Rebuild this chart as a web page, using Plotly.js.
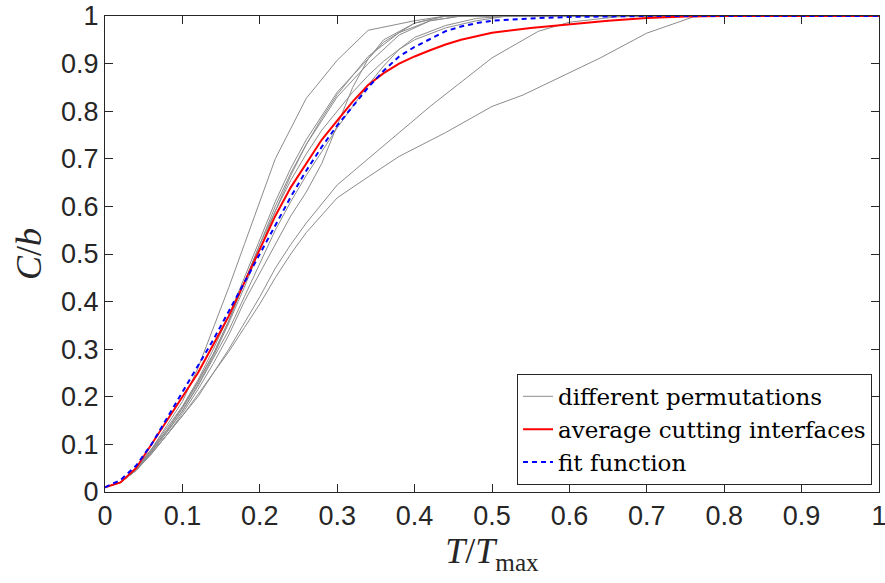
<!DOCTYPE html>
<html>
<head>
<meta charset="utf-8">
<script src="https://cdn.plot.ly/plotly-3.0.1.min.js"></script>
<style>html,body{margin:0;padding:0;background:#fff;}#chart{width:885px;height:583px;}</style>
</head>
<body>
<div id="chart"></div>
<script>
// Gray curves: different permutations
var permAx = [0,0.02,0.04,0.06,0.08,0.10,0.12,0.14,0.16,0.18,0.20,0.22,0.26,0.30,0.34,0.40,0.44,1.0];
var permAy = [0.01,0.02,0.05,0.09,0.14,0.19,0.26,0.345,0.43,0.52,0.61,0.70,0.827,0.907,0.97,0.99,1.0,1.0];
var permBx = [0,0.02,0.04,0.06,0.08,0.10,0.12,0.14,0.16,0.18,0.20,0.22,0.24,0.26,0.28,0.30,0.34,0.36,0.40,0.44,1.0];
var permBy = [0.01,0.02,0.05,0.09,0.135,0.18,0.235,0.30,0.37,0.45,0.53,0.61,0.68,0.74,0.79,0.84,0.91,0.945,0.985,1.0,1.0];
var permCx = [0,0.02,0.04,0.06,0.08,0.10,0.12,0.14,0.16,0.18,0.20,0.22,0.24,0.26,0.28,0.30,0.34,0.38,0.42,0.46,1.0];
var permCy = [0.01,0.02,0.048,0.088,0.13,0.175,0.23,0.29,0.36,0.44,0.52,0.60,0.67,0.73,0.78,0.83,0.90,0.96,0.99,1.0,1.0];
var permDx = [0,0.02,0.04,0.06,0.08,0.10,0.12,0.14,0.16,0.18,0.20,0.22,0.24,0.26,0.28,0.30,0.34,0.38,0.42,0.46,1.0];
var permDy = [0.01,0.02,0.047,0.085,0.127,0.17,0.225,0.285,0.355,0.43,0.51,0.59,0.665,0.73,0.785,0.835,0.915,0.965,0.99,1.0,1.0];
var permEx = [0,0.02,0.04,0.06,0.08,0.10,0.12,0.14,0.16,0.18,0.20,0.22,0.24,0.26,0.28,0.30,0.32,0.34,0.36,0.40,0.44,1.0];
var permEy = [0.01,0.02,0.045,0.082,0.12,0.165,0.215,0.27,0.33,0.40,0.46,0.52,0.58,0.63,0.69,0.77,0.85,0.91,0.95,0.985,1.0,1.0];
var permFx = [0,0.02,0.04,0.06,0.08,0.10,0.12,0.14,0.16,0.18,0.20,0.22,0.24,0.26,0.28,0.30,0.32,0.34,0.36,0.38,0.40,0.44,0.48,0.52,1.0];
var permFy = [0.01,0.02,0.046,0.084,0.125,0.17,0.222,0.28,0.34,0.41,0.48,0.55,0.61,0.665,0.715,0.765,0.81,0.855,0.895,0.93,0.955,0.98,0.995,1.0,1.0];
var permGx = [0,0.02,0.04,0.06,0.08,0.10,0.12,0.14,0.16,0.18,0.20,0.22,0.24,0.26,0.28,0.30,0.32,0.34,0.36,0.38,0.40,0.44,0.48,0.52,1.0];
var permGy = [0.01,0.02,0.048,0.087,0.13,0.178,0.232,0.29,0.36,0.44,0.52,0.59,0.655,0.71,0.76,0.80,0.84,0.875,0.905,0.93,0.95,0.975,0.99,1.0,1.0];
var permHx = [0,0.02,0.04,0.06,0.08,0.10,0.12,0.14,0.16,0.18,0.20,0.22,0.24,0.26,0.30,0.34,0.38,0.42,0.46,0.50,0.56,0.60,0.66,0.70,1.0];
var permHy = [0.01,0.02,0.045,0.08,0.12,0.16,0.205,0.25,0.30,0.355,0.41,0.47,0.52,0.565,0.645,0.70,0.756,0.81,0.861,0.912,0.968,0.987,0.998,1.0,1.0];
var permIx = [0,0.02,0.04,0.06,0.08,0.10,0.12,0.14,0.16,0.18,0.20,0.22,0.24,0.26,0.30,0.34,0.38,0.44,0.50,0.54,0.58,0.64,0.70,0.76,0.78,1.0];
var permIy = [0.01,0.02,0.045,0.08,0.12,0.16,0.20,0.25,0.295,0.345,0.395,0.45,0.50,0.545,0.618,0.662,0.705,0.755,0.81,0.834,0.865,0.912,0.964,0.998,1.0,1.0];

// Average cutting interfaces (red)
var avgX = [0,0.02,0.04,0.06,0.08,0.10,0.12,0.14,0.16,0.18,0.20,0.22,0.24,0.26,0.28,0.30,0.32,0.34,0.36,0.38,0.40,0.42,0.44,0.46,0.48,0.50,0.55,0.60,0.65,0.70,0.75,0.80,0.90,1.0];
var avgY = [0.01,0.02,0.05,0.10,0.15,0.20,0.25,0.31,0.37,0.44,0.51,0.58,0.64,0.69,0.74,0.78,0.82,0.855,0.88,0.90,0.915,0.928,0.94,0.95,0.958,0.965,0.975,0.983,0.99,0.996,0.999,1.0,1.0,1.0];

// Fit function (blue dashed)
var fitX = [0,0.02,0.04,0.06,0.08,0.10,0.12,0.14,0.16,0.18,0.20,0.22,0.24,0.26,0.28,0.30,0.32,0.34,0.36,0.38,0.40,0.42,0.44,0.46,0.48,0.50,0.55,0.60,0.65,0.70,0.80,0.90,1.0];
var fitY = [0.01,0.025,0.055,0.10,0.155,0.21,0.265,0.32,0.38,0.44,0.50,0.56,0.62,0.675,0.725,0.77,0.81,0.85,0.885,0.915,0.935,0.952,0.968,0.978,0.985,0.99,0.995,0.998,0.999,1.0,1.0,1.0,1.0];

var legendNames = ["different permutations", "average cutting interfaces", "fit function"];
var tickVals = [0,0.1,0.2,0.3,0.4,0.5,0.6,0.7,0.8,0.9,1];

var permXs = [permAx,permBx,permCx,permDx,permEx,permFx,permGx,permHx,permIx];
var permYs = [permAy,permBy,permCy,permDy,permEy,permFy,permGy,permHy,permIy];

var traces = [];
for (var i = 0; i < permXs.length; i++) {
  traces.push({
    x: permXs[i], y: permYs[i], type: 'scatter', mode: 'lines',
    line: {color: '#8c8c8c', width: 1},
    name: legendNames[0], legendgroup: 'perm', showlegend: i === 0,
    hoverinfo: 'skip'
  });
}
traces.push({x: avgX, y: avgY, type: 'scatter', mode: 'lines',
  line: {color: '#ff0000', width: 2}, name: legendNames[1]});
traces.push({x: fitX, y: fitY, type: 'scatter', mode: 'lines',
  line: {color: '#0000ff', width: 2, dash: '5px,4px'}, name: legendNames[2]});

var axisCommon = {
  range: [0, 1], tickvals: tickVals, ticks: 'inside', ticklen: 8, tickwidth: 1,
  tickcolor: '#262626', showline: true, linecolor: '#262626', linewidth: 1,
  mirror: 'ticks', showgrid: false, zeroline: false, ticklabeloverflow: 'allow',
  tickfont: {family: '"Liberation Sans", Arial, sans-serif', size: 27, color: '#262626'}
};

var titleFont = {family: '"Liberation Serif", "DejaVu Serif", serif', size: 36, color: '#262626'};

var layout = {
  width: 885, height: 583,
  margin: {l: 105, r: 6, t: 16, b: 91},
  paper_bgcolor: '#ffffff', plot_bgcolor: '#ffffff',
  xaxis: Object.assign({}, axisCommon, {
    title: {text: '<i>T</i>/<i>T</i><sub>max</sub>', font: titleFont, standoff: 5}
  }),
  yaxis: Object.assign({}, axisCommon, {
    title: {text: '<i>C</i>/<i>b</i>', font: titleFont, standoff: 8}
  }),
  showlegend: true,
  legend: {
    x: 0.991, y: 0.015, xanchor: 'right', yanchor: 'bottom',
    bgcolor: '#ffffff', bordercolor: '#262626', borderwidth: 1,
    font: {family: '"DejaVu Serif", "Liberation Serif", serif', size: 23, color: '#000000'},
    itemwidth: 30, tracegroupgap: 0
  }
};

Plotly.newPlot('chart', traces, layout, {displayModeBar: false, staticPlot: true});
</script>
</body>
</html>
